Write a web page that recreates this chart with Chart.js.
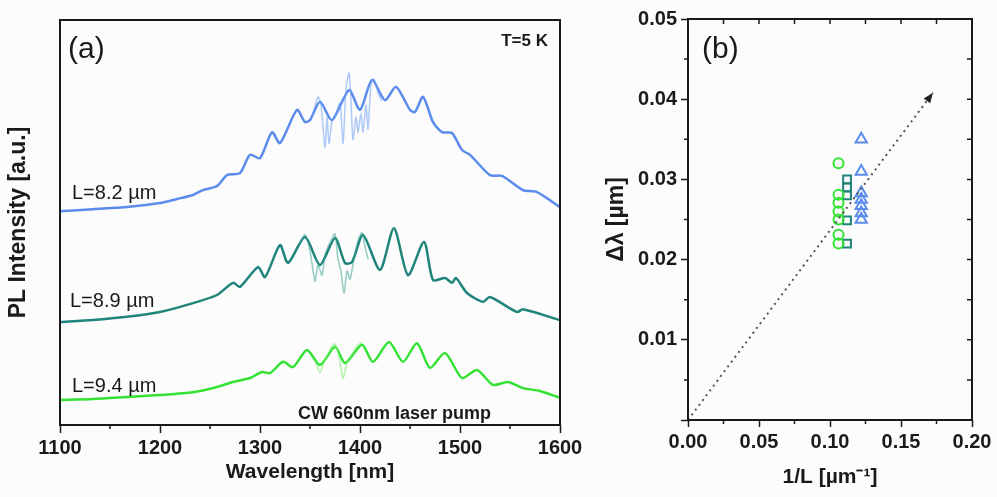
<!DOCTYPE html>
<html>
<head>
<meta charset="utf-8">
<title>PL spectra and mode spacing</title>
<script src="https://cdn.jsdelivr.net/npm/chart.js@4.4.1/dist/chart.umd.min.js"></script>
<style>
    html, body { margin: 0; padding: 0; background: #fcfcfc; }
    #wrap { position: relative; width: 997px; height: 497px; }
    canvas { position: absolute; top: 0; }
    #chart-a { left: 0; }
    #chart-b { left: 590px; }
</style>
</head>
<body>
<div id="wrap">
    <canvas id="chart-a" width="590" height="497"></canvas>
    <canvas id="chart-b" width="407" height="497"></canvas>
</div>
<script>
// ── Data: panel (a) PL spectra, offset, a.u. ─────────
const wl82 = [1100, 1133, 1167, 1200, 1217, 1233, 1243, 1257, 1267, 1280, 1290, 1300, 1312, 1320, 1337, 1345, 1350, 1360, 1372, 1389, 1400, 1412, 1425, 1436, 1450, 1455, 1463, 1473, 1482, 1492, 1502, 1510, 1530, 1542, 1563, 1577, 1600];
const pl82 = [5.28, 5.33, 5.38, 5.48, 5.58, 5.68, 5.80, 5.90, 6.17, 6.22, 6.67, 6.59, 7.23, 6.96, 7.78, 7.48, 7.53, 7.98, 7.53, 8.27, 7.78, 8.52, 8.02, 8.35, 7.78, 7.73, 8.10, 7.48, 7.23, 7.21, 6.79, 6.67, 6.17, 6.15, 5.80, 5.75, 5.38];
const wl89 = [1100, 1133, 1167, 1200, 1233, 1257, 1273, 1280, 1298, 1305, 1320, 1328, 1345, 1360, 1375, 1385, 1392, 1403, 1420, 1434, 1448, 1464, 1473, 1485, 1492, 1496, 1507, 1523, 1530, 1557, 1563, 1600];
const pl89 = [2.54, 2.59, 2.67, 2.79, 3.01, 3.21, 3.51, 3.41, 3.90, 3.65, 4.44, 4.00, 4.64, 3.95, 4.62, 4.00, 4.02, 4.69, 3.83, 4.86, 3.70, 4.52, 3.58, 3.63, 3.51, 3.63, 3.26, 3.04, 3.16, 2.79, 2.86, 2.59];
const wl94 = [1100, 1133, 1167, 1200, 1233, 1257, 1273, 1290, 1302, 1310, 1323, 1333, 1347, 1360, 1375, 1385, 1402, 1413, 1429, 1443, 1457, 1470, 1485, 1502, 1517, 1533, 1548, 1563, 1580, 1600];
const pl94 = [0.62, 0.64, 0.69, 0.74, 0.81, 0.94, 1.06, 1.16, 1.31, 1.28, 1.56, 1.43, 1.85, 1.48, 1.93, 1.53, 1.98, 1.56, 2.05, 1.56, 2.02, 1.41, 1.78, 1.16, 1.36, 0.99, 1.06, 0.91, 0.84, 0.67];

// raw (unsmoothed) traces around the lasing region
const rawWl82 = [1352, 1358, 1361, 1365, 1367, 1369, 1372, 1376, 1380, 1383, 1386, 1389, 1391, 1393, 1396, 1398, 1401, 1403, 1406, 1408, 1411, 1414, 1418, 1422];
const rawPl82 = [7.60, 8.10, 7.90, 6.86, 7.60, 6.96, 7.50, 7.70, 7.95, 6.96, 8.30, 8.69, 8.00, 7.05, 7.60, 7.23, 7.70, 7.23, 7.90, 7.30, 8.40, 8.55, 8.20, 8.00];
const rawWl89 = [1340, 1345, 1350, 1355, 1358, 1362, 1365, 1368, 1372, 1375, 1378, 1381, 1384, 1387, 1390, 1394, 1398, 1402, 1405, 1408];
const rawPl89 = [4.50, 4.70, 4.30, 3.55, 3.95, 3.70, 4.20, 4.40, 4.60, 4.72, 4.10, 3.80, 3.25, 3.80, 3.60, 4.10, 4.55, 4.75, 4.40, 4.10];
const rawWl94 = [1355, 1360, 1364, 1368, 1372, 1375, 1379, 1383, 1387, 1392, 1397, 1402];
const rawPl94 = [1.60, 1.30, 1.55, 1.75, 1.95, 2.00, 1.70, 1.15, 1.55, 1.75, 1.95, 2.05];

const wlTicks = [1100, 1200, 1300, 1400, 1500, 1600];

// ── Data: panel (b) mode spacing vs 1/L ───────────────
const invL94 = [0.106, 0.106, 0.106, 0.106, 0.106, 0.106, 0.106];
const dl94 = [0.032, 0.0281, 0.0271, 0.0260, 0.0250, 0.0231, 0.0220];
const invL89 = [0.112, 0.112, 0.112, 0.112, 0.112];
const dl89 = [0.0300, 0.0290, 0.0280, 0.0249, 0.0220];
const invL82 = [0.122, 0.122, 0.122, 0.122, 0.122, 0.122, 0.122];
const dl82 = [0.0350, 0.0310, 0.0283, 0.0275, 0.0267, 0.0258, 0.0250];
const guideX = [0, 0.1725];
const guideY = [0, 0.0408];

const C_BLUE = '#5b8cec', C_TEAL = '#1f847a', C_GREEN = '#33e233';
const INK = '#1a1a1a';
const FONT = "'Liberation Sans', Arial, sans-serif";

const pts = (xs, ys) => xs.map((x, i) => ({ x, y: ys[i] }));

// ── Helpers ───────────────────────────────────────────
function drawFrame(chart) {
    const { ctx, chartArea: a } = chart;
    ctx.save();
    ctx.strokeStyle = INK;
    ctx.lineWidth = 2;
    ctx.strokeRect(a.left, a.top, a.right - a.left, a.bottom - a.top);
    ctx.restore();
}

// short ticks between the labelled ones (outward on bottom/left, inward on top/right)
function minorTicks(chart, axis, from, to, step, len, edge) {
    const { ctx, chartArea: a } = chart;
    const sc = chart.scales[axis];
    ctx.save();
    ctx.strokeStyle = INK;
    ctx.lineWidth = 1.5;
    ctx.beginPath();
    for (let v = from; v <= to + 1e-9; v += step) {
        const p = sc.getPixelForValue(v);
        if (edge === 'bottom') { ctx.moveTo(p, a.bottom); ctx.lineTo(p, a.bottom + len); }
        if (edge === 'top') { ctx.moveTo(p, a.top); ctx.lineTo(p, a.top + len); }
        if (edge === 'left') { ctx.moveTo(a.left, p); ctx.lineTo(a.left - len, p); }
        if (edge === 'right') { ctx.moveTo(a.right, p); ctx.lineTo(a.right - len, p); }
    }
    ctx.stroke();
    ctx.restore();
}

function text(ctx, str, x, y, font, align = 'left') {
    ctx.save();
    ctx.fillStyle = INK;
    ctx.font = font;
    ctx.textAlign = align;
    ctx.textBaseline = 'alphabetic';
    ctx.fillText(str, x, y);
    ctx.restore();
}

// ── Panel (a) ─────────────────────────────────────────
const lineSet = (label, xs, ys, color, width) => ({
    label, data: pts(xs, ys), borderColor: color, borderWidth: width,
    pointRadius: 0, tension: 0.25, fill: false
});

new Chart(document.getElementById('chart-a'), {
    type: 'line',
    data: {
        datasets: [
            lineSet('raw 8.2', rawWl82, rawPl82, 'rgba(110,160,245,0.55)', 1.5),
            lineSet('raw 8.9', rawWl89, rawPl89, 'rgba(60,160,150,0.55)', 1.5),
            lineSet('raw 9.4', rawWl94, rawPl94, 'rgba(120,235,120,0.6)', 1.5),
            lineSet('L=8.2 µm', wl82, pl82, C_BLUE, 2.5),
            lineSet('L=8.9 µm', wl89, pl89, C_TEAL, 2.5),
            lineSet('L=9.4 µm', wl94, pl94, C_GREEN, 2.5)
        ]
    },
    options: {
        responsive: false,
        animation: false,
        layout: { padding: { left: 0, top: 20, right: 30, bottom: 0 } },
        plugins: { legend: { display: false }, tooltip: { enabled: false } },
        scales: {
            x: {
                type: 'linear', min: 1100, max: 1600,
                afterFit: s => { s.height = 72; },
                afterBuildTicks: s => { s.ticks = wlTicks.map(v => ({ value: v })); },
                ticks: { callback: v => String(v), color: INK, font: { family: FONT, size: 20, weight: 'bold' }, padding: 3, maxRotation: 0 },
                grid: { drawOnChartArea: false, tickLength: 8, tickColor: INK, tickWidth: 1.5 },
                border: { display: false },
                title: { display: true, text: 'Wavelength [nm]', color: INK, font: { family: FONT, size: 21, weight: 'bold' }, padding: { top: 0, bottom: 12 } }
            },
            y: {
                min: 0, max: 10,
                afterFit: s => { s.width = 60; },
                ticks: { display: false },
                grid: { display: false },
                border: { display: false },
                title: { display: true, text: 'PL Intensity [a.u.]', color: INK, font: { family: FONT, size: 23, weight: 'bold' }, padding: { top: 5, bottom: 0 } }
            }
        }
    },
    plugins: [{
        id: 'panelA',
        afterDraw(chart) {
            drawFrame(chart);
            minorTicks(chart, 'x', 1150, 1550, 100, 4, 'bottom');
            const ctx = chart.ctx;
            text(ctx, '(a)', 68, 58, `30px ${FONT}`);
            text(ctx, 'T=5 K', 548, 46, `bold 17px ${FONT}`, 'right');
            text(ctx, 'L=8.2 \u00b5m', 72, 199, `20px ${FONT}`);
            text(ctx, 'L=8.9 \u00b5m', 70, 307, `20px ${FONT}`);
            text(ctx, 'L=9.4 \u00b5m', 72, 392, `20px ${FONT}`);
            text(ctx, 'CW 660nm laser pump', 298, 419, `bold 18px ${FONT}`);
        }
    }]
});

// ── Panel (b) ─────────────────────────────────────────
const markSet = (label, xs, ys, style, color, r) => ({
    type: 'scatter', label, data: pts(xs, ys), pointStyle: style,
    pointRadius: r, borderColor: color, backgroundColor: 'rgba(0,0,0,0)', pointBorderWidth: 2
});

new Chart(document.getElementById('chart-b'), {
    type: 'scatter',
    data: {
        datasets: [
            {
                type: 'line', label: 'guide', data: pts(guideX, guideY),
                borderColor: '#555', borderWidth: 2, borderDash: [2, 4], pointRadius: 0
            },
            markSet('L=9.4 µm', invL94, dl94, 'circle', C_GREEN, 5),
            markSet('L=8.9 µm', invL89, dl89, 'rect', C_TEAL, 5.5),
            markSet('L=8.2 µm', invL82, dl82, 'triangle', C_BLUE, 6.5)
        ]
    },
    options: {
        responsive: false,
        animation: false,
        layout: { padding: { left: 0, top: 19, right: 25, bottom: 0 } },
        plugins: { legend: { display: false }, tooltip: { enabled: false } },
        scales: {
            x: {
                type: 'linear', min: 0, max: 0.2,
                afterFit: s => { s.height = 77; },
                ticks: { stepSize: 0.05, callback: v => v.toFixed(2), color: INK, font: { family: FONT, size: 20, weight: 'bold' }, padding: 3, maxRotation: 0 },
                grid: { drawOnChartArea: false, tickLength: 7, tickColor: INK, tickWidth: 1.5 },
                border: { display: false },
                title: { display: true, text: '1/L [\u00b5m\u207b\u00b9]', color: INK, font: { family: FONT, size: 21, weight: 'bold' }, padding: { top: 0, bottom: 7 } }
            },
            y: {
                type: 'linear', min: 0, max: 0.05,
                afterFit: s => { s.width = 98; },
                ticks: { stepSize: 0.01, callback: v => (v === 0 ? '' : v.toFixed(2)), color: INK, font: { family: FONT, size: 20, weight: 'bold' }, padding: 4 },
                grid: { drawOnChartArea: false, tickLength: 7, tickColor: INK, tickWidth: 1.5 },
                border: { display: false },
                title: { display: true, text: '\u0394\u03bb [\u00b5m]', color: INK, font: { family: FONT, size: 23, weight: 'bold' }, padding: { top: 13, bottom: 0 } }
            }
        }
    },
    plugins: [{
        id: 'panelB',
        afterDraw(chart) {
            drawFrame(chart);
            minorTicks(chart, 'x', 0.025, 0.175, 0.05, 4, 'bottom');
            minorTicks(chart, 'y', 0.005, 0.045, 0.01, 4, 'left');
            minorTicks(chart, 'x', 0.025, 0.175, 0.025, 5, 'top');
            minorTicks(chart, 'y', 0.005, 0.045, 0.005, 5, 'right');
            // arrow head on the guide line
            const { ctx, scales: { x, y } } = chart;
            const x0 = x.getPixelForValue(guideX[0]), y0 = y.getPixelForValue(guideY[0]);
            const x1 = x.getPixelForValue(guideX[1]), y1 = y.getPixelForValue(guideY[1]);
            const ang = Math.atan2(y1 - y0, x1 - x0);
            ctx.save();
            ctx.fillStyle = '#222';
            ctx.translate(x1, y1);
            ctx.rotate(ang);
            ctx.beginPath();
            ctx.moveTo(0, 0); ctx.lineTo(-10, -4); ctx.lineTo(-10, 4); ctx.closePath();
            ctx.fill();
            ctx.restore();
            text(ctx, '(b)', 112, 58, `30px ${FONT}`);
        }
    }]
});
</script>
</body>
</html>
